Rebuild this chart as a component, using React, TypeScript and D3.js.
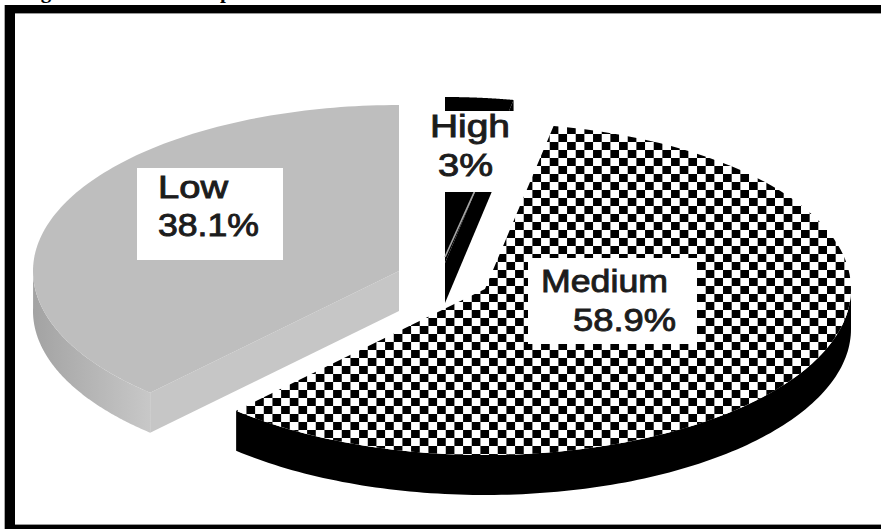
import React from "react";
import * as d3 from "d3";

// Risk share per category, clockwise from twelve o'clock
const categories = ["High", "Medium", "Low"];
const shares = [3, 58.9, 38.1];

const WIDTH = 881;
const HEIGHT = 529;
const RX = 366;
const RY = 166;
const DEPTH = 40;

// Where each exploded wedge keeps its apex on the top surface
const apexes: Record<string, [number, number]> = {
  High: [445, 263],
  Medium: [485, 289],
  Low: [399, 271],
};

// Label plates and text fitted to their widths
const plates: Record<string, [number, number, number, number]> = {
  High: [424, 111, 96, 81],
  Medium: [528, 258, 169, 86],
  Low: [137, 168, 146, 92],
};
const labelLines: Record<string, { x: number; y: number; w: number }[]> = {
  High: [
    { x: 430, y: 137, w: 80 },
    { x: 438, y: 176, w: 55 },
  ],
  Medium: [
    { x: 541, y: 292, w: 127 },
    { x: 573, y: 331, w: 103 },
  ],
  Low: [
    { x: 158, y: 198, w: 70 },
    { x: 158, y: 236, w: 101 },
  ],
};

const pie = d3
  .pie<number>()
  .sort(null)
  .startAngle(0)
  .endAngle(2 * Math.PI);

type Pt = [number, number];

function rim(center: Pt, a0: number, a1: number, dy = 0): Pt[] {
  const x = d3.scaleLinear().domain([-1, 1]).range([center[0] - RX, center[0] + RX]);
  const y = d3
    .scaleLinear()
    .domain([-1, 1])
    .range([center[1] - RY + dy, center[1] + RY + dy]);
  return d3.range(0, 121).map((i) => {
    const a = a0 + ((a1 - a0) * i) / 120;
    return [x(Math.sin(a)), y(-Math.cos(a))] as Pt;
  });
}

const closed = d3.line<Pt>().curve(d3.curveLinearClosed);

function Wedge({ name, a0, a1 }: { name: string; a0: number; a1: number }) {
  const c = apexes[name];
  const lower: Pt = [c[0], c[1] + DEPTH];
  const top = closed([c, ...rim(c, a0, a1)]) as string;
  const first = rim(c, a0, a0)[0];

  if (name === "High") {
    const cut = closed([c, first, [first[0], first[1] + DEPTH], lower]) as string;
    const far = rim(c, a1, a1)[0];
    const face = closed([c, far, [far[0], far[1] + DEPTH], lower]) as string;
    // The light seam between top and side stops under the label plate
    const seam = d3.interpolateArray(c, far)(0.55) as number[];
    return (
      <g>
        <path d={cut} fill="#000" />
        <path d={face} fill="#000" />
        <path d={top} fill="#000" />
        <line x1={c[0]} y1={c[1] - 6} x2={seam[0]} y2={seam[1]} stroke="#a6a6a6" strokeWidth={1.6} />
      </g>
    );
  }

  if (name === "Medium") {
    const from = Math.PI / 2;
    const side = closed([...rim(c, from, a1), ...rim(c, from, a1, DEPTH).reverse()]) as string;
    return (
      <g>
        <path d={side} fill="#000" />
        <path d={top} fill="url(#checker)" />
      </g>
    );
  }

  const to = 1.5 * Math.PI + 0.02;
  const side = closed([...rim(c, a0, to), ...rim(c, a0, to, DEPTH).reverse()]) as string;
  const cutFace = closed([c, first, [first[0], first[1] + DEPTH], lower]) as string;
  return (
    <g>
      <path d={side} fill="url(#lowSide)" />
      <path d={cutFace} fill="#c6c6c6" />
      <path d={top} fill="#bebebe" />
    </g>
  );
}

export default function App() {
  const arcs = pie(shares);
  return (
    <svg
      width={WIDTH}
      height={HEIGHT}
      viewBox={`0 0 ${WIDTH} ${HEIGHT}`}
      style={{ position: "absolute", left: 0, top: 0, background: "#fff" }}
    >
      <defs>
        <pattern
          id="checker"
          patternUnits="userSpaceOnUse"
          width={17.33}
          height={16}
          patternTransform="translate(12.5 14)"
        >
          <rect width={17.33} height={16} fill="#fff" />
          <rect width={8.67} height={8} fill="#000" />
          <rect x={8.67} y={8} width={8.67} height={8} fill="#000" />
        </pattern>
        <linearGradient id="lowSide" gradientUnits="userSpaceOnUse" x1={31} x2={151} y1={0} y2={0}>
          <stop offset="0" stopColor="#a2a2a2" />
          <stop offset="1" stopColor="#c8c8c8" />
        </linearGradient>
      </defs>

      {/* caption running above the frame */}
      <g fontFamily="Liberation Serif" fontWeight="bold" fontSize={21} fill="#000">
        <text x={22} y={-2}>Figure</text>
        <text x={220} y={-2}>p</text>
      </g>

      {/* frame: top, left and bottom rules */}
      <rect x={4} y={5} width={WIDTH} height={8} fill="#000" />
      <rect x={15} y={13} width={WIDTH} height={1} fill="#999" />
      <rect x={5} y={5} width={10} height={HEIGHT} fill="#000" />
      <rect x={4} y={5} width={1} height={HEIGHT} fill="#aaa" />
      <rect x={15} y={525} width={WIDTH} height={4} fill="#000" />
      <rect x={15} y={524} width={WIDTH} height={1} fill="#999" />

      {arcs.map((d, i) => (
        <Wedge key={categories[i]} name={categories[i]} a0={d.startAngle} a1={d.endAngle} />
      ))}

      {categories.map((name, i) => {
        const [x, y, w, h] = plates[name];
        const rows = [name, `${shares[i]}%`];
        return (
          <g key={name}>
            <rect x={x} y={y} width={w} height={h} fill="#fff" />
            {rows.map((t, j) => {
              const l = labelLines[name][j];
              return (
                <text
                  key={t}
                  x={l.x}
                  y={l.y}
                  textLength={l.w}
                  lengthAdjust="spacingAndGlyphs"
                  fontFamily="Liberation Sans"
                  fontSize={31}
                  fill="#1c1c1c"
                  stroke="#1c1c1c"
                  strokeWidth={0.9}
                >
                  {t}
                </text>
              );
            })}
          </g>
        );
      })}
    </svg>
  );
}
